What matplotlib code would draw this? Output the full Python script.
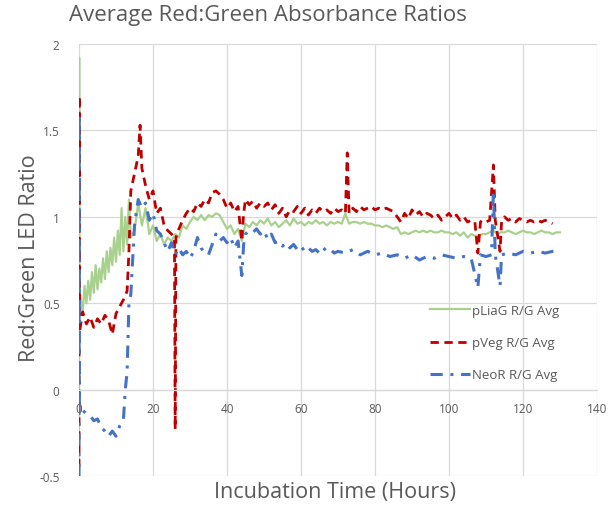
import matplotlib.pyplot as plt

# ----- data (hours, red:green ratio) -----
liag_x = [0, 0.05, 0.1] + [0.5 * i for i in range(1, 29)] + list(range(15, 131))
liag_y = [
    -0.48, 1.92, 0.55,
    # 0.5 .. 14 h, half-hour steps (noisy ramp)
    0.52, 0.45, 0.60, 0.50, 0.63, 0.52, 0.68, 0.56, 0.72, 0.58,
    0.70, 0.62, 0.76, 0.64, 0.80, 0.68, 0.82, 0.72, 0.88, 0.74,
    0.92, 0.78, 1.05, 0.80, 1.00, 0.84, 1.10, 0.88,
    # 15 .. 130 h
    0.92, 1.08, 0.95, 1.05, 0.90, 0.95,
    0.86, 0.90, 0.84, 0.88, 0.86, 0.90, 0.88, 0.95, 0.93, 0.97,
    1.00, 0.98, 1.01, 0.98, 1.01, 1.00, 1.02, 1.01, 0.97, 0.93,
    0.95, 0.90, 0.93, 0.86, 0.96, 0.94, 0.97, 0.95, 0.98, 0.96,
    0.99, 0.95, 0.97, 0.94, 0.96, 0.98, 0.95, 0.99, 0.96, 0.97,
    0.95, 0.97, 0.96, 0.98, 0.96, 0.97, 0.95, 0.97, 0.96, 0.97,
    0.96, 1.02, 0.96, 0.97, 0.97, 0.96, 0.97, 0.96, 0.96, 0.95,
    0.95, 0.94, 0.95, 0.94, 0.93, 0.94, 0.90, 0.91, 0.90, 0.91,
    0.92, 0.91, 0.92, 0.91, 0.92, 0.91, 0.91, 0.92, 0.91, 0.91,
    0.90, 0.91, 0.89, 0.91, 0.88, 0.90, 0.89, 0.89, 0.90, 0.90,
    0.91, 0.92, 0.90, 0.91, 0.91, 0.92, 0.91, 0.90, 0.91, 0.92,
    0.91, 0.91, 0.90, 0.91, 0.92, 0.91, 0.91, 0.90, 0.91, 0.91,
]

veg_x = [
    0, 0.05, 0.1, 1, 2, 3, 4, 5, 6, 7, 8, 9, 10, 11, 12, 13, 13.5,
    14, 15, 16, 16.5, 17, 18, 19, 20, 21, 22, 23, 24, 25, 25.8, 26,
    26.2, 27, 28, 29, 30, 31, 32, 33, 34, 35, 36, 37, 38, 39, 40, 41,
    42, 43, 44, 44.5, 45, 46, 47, 48, 49, 50, 51, 52, 53, 54, 55, 56,
    57, 58, 59, 60, 61, 62, 63, 64, 65, 66, 67, 68, 69, 70, 71, 72,
    72.5, 73, 74, 75, 76, 77, 78, 79, 80, 81, 82, 83, 84, 85, 86, 87,
    88, 89, 90, 91, 92, 93, 94, 95, 96, 97, 98, 99, 100, 101, 102,
    103, 104, 105, 106, 107, 107.8, 108.5, 109, 110, 111, 112, 112.5,
    113.8, 114.2, 115, 116, 117, 118, 119, 120, 121, 122, 123, 124,
    125, 126, 127, 128,
]
veg_y = [
    -0.45, 1.70, 0.33, 0.45, 0.38, 0.42, 0.36, 0.41, 0.38, 0.43, 0.40,
    0.32, 0.44, 0.48, 0.52, 0.57, 0.80, 1.15, 1.25, 1.35, 1.53, 1.28,
    1.18, 1.10, 1.15, 1.02, 1.05, 0.95, 0.92, 0.90, 0.88, -0.23, 0.88,
    0.93, 0.98, 1.02, 1.05, 1.03, 1.08, 1.06, 1.10, 1.08, 1.14, 1.15,
    1.13, 1.10, 1.05, 1.08, 1.03, 1.06, 0.86, 1.02, 1.10, 1.07, 1.09,
    1.05, 1.08, 1.06, 1.08, 1.04, 1.07, 1.02, 1.05, 1.00, 1.04, 1.03,
    1.06, 1.02, 1.05, 1.01, 1.04, 1.02, 1.05, 1.03, 1.04, 1.02, 1.05,
    1.03, 1.04, 1.02, 1.37, 1.02, 1.05, 1.03, 1.06, 1.04, 1.05, 1.06,
    1.04, 1.05, 1.04, 1.05, 1.04, 1.03, 1.00, 0.97, 1.02, 0.99, 1.04,
    1.01, 1.03, 1.00, 1.02, 1.01, 0.99, 1.01, 0.98, 1.00, 1.02, 0.99,
    1.01, 0.98, 1.00, 0.97, 0.98, 0.97, 0.79, 0.97, 0.98, 0.97, 0.98,
    1.30, 0.98, 0.80, 0.97, 1.00, 0.98, 0.99, 0.97, 0.99, 0.98, 0.97,
    0.98, 0.97, 0.98, 0.97, 0.98, 0.97, 0.96,
]

neo_x = [
    0, 0.05, 0.1, 0.5, 1, 2, 3, 4, 5, 6, 7, 8, 9, 10, 11, 12, 12.5,
    13, 13.5, 14, 14.5, 15, 16, 17, 18, 19, 20, 21, 22, 23, 24, 25,
    26, 27, 28, 29, 30, 31, 32, 33, 34, 35, 36, 37, 38, 39, 40, 41,
    42, 43, 44, 44.5, 45, 46, 47, 48, 49, 50, 51, 52, 53, 54, 55, 56,
    57, 58, 59, 60, 61, 62, 63, 64, 65, 66, 67, 68, 69, 70, 72, 74,
    76, 78, 80, 82, 84, 86, 88, 90, 92, 94, 96, 98, 100, 102, 104,
    106, 107.8, 108.5, 110, 111.5, 112, 112.5, 113.8, 114.2, 116, 118,
    120, 122, 124, 126, 128, 130,
]
neo_y = [
    -0.50, 1.60, -0.08, -0.10, -0.12, -0.14, -0.15, -0.18, -0.17,
    -0.22, -0.24, -0.27, -0.24, -0.27, -0.21, -0.18, 0.00, 0.10, 0.50,
    0.55, 0.75, 0.95, 1.10, 1.05, 1.08, 0.98, 1.02, 0.92, 0.90, 0.85,
    0.80, 0.85, 0.78, 0.82, 0.78, 0.80, 0.76, 0.80, 0.88, 0.82, 0.79,
    0.78, 0.84, 0.90, 0.86, 0.88, 0.85, 0.88, 0.82, 0.86, 0.66, 0.84,
    0.90, 0.92, 0.91, 0.93, 0.90, 0.92, 0.87, 0.90, 0.85, 0.86, 0.83,
    0.85, 0.82, 0.84, 0.81, 0.83, 0.80, 0.82, 0.80, 0.81, 0.79, 0.82,
    0.80, 0.81, 0.79, 0.80, 0.79, 0.81, 0.78, 0.80, 0.78, 0.79, 0.77,
    0.78, 0.76, 0.78, 0.75, 0.77, 0.76, 0.78, 0.77, 0.76, 0.77, 0.76,
    0.59, 0.78, 0.77, 0.78, 1.15, 0.78, 0.60, 0.78, 0.79, 0.78, 0.80,
    0.79, 0.80, 0.79, 0.80, 0.80,
]

x_ticks = [0, 20, 40, 60, 80, 100, 120, 140]
y_ticks = [-0.5, 0, 0.5, 1, 1.5, 2]
y_tick_labels = ["-0.5", "0", "0.5", "1", "1.5", "2"]

GREEN = "#a9d18e"
RED = "#c00000"
BLUE = "#4472c4"
TEXT = "#595959"
GRID = "#d9d9d9"

plt.rcParams["font.family"] = ["Open Sans", "DejaVu Sans"]

fig = plt.figure(figsize=(6.13, 5.06), dpi=100)
ax = fig.add_axes([79 / 613, 1 - 477 / 506, 518 / 613, 432 / 506])

ax.plot(liag_x, liag_y, color=GREEN, lw=1.6, label="pLiaG R/G Avg")
ax.plot(veg_x, veg_y, color=RED, lw=2.0, ls=(0, (3, 2)),
        label="pVeg R/G Avg")
ax.plot(neo_x, neo_y, color=BLUE, lw=2.2, ls=(0, (4, 2.5, 1, 2.5)),
        label="NeoR R/G Avg")

ax.set_xlim(0, 140)
ax.set_ylim(-0.5, 2)
ax.set_xticks(x_ticks)
ax.set_yticks(y_ticks)
ax.set_yticklabels(y_tick_labels)
ax.grid(True, color=GRID, lw=0.9)
ax.set_axisbelow(True)
for side in ("top", "right", "left"):
    ax.spines[side].set_visible(False)
# Excel style: category axis crosses at y = 0
ax.spines["bottom"].set_position(("data", 0))
ax.spines["bottom"].set_color(GRID)
ax.spines["bottom"].set_linewidth(0.9)
ax.tick_params(axis="x", length=0, pad=9, labelsize=8.5, labelcolor=TEXT)
ax.tick_params(axis="y", length=0, pad=14, labelsize=8.5, labelcolor=TEXT)

fig.text(268 / 613, 1 - 16 / 506, "Average Red:Green Absorbance Ratios",
         ha="center", va="center", fontsize=16, color=TEXT)
fig.text(335 / 613, 1 - 493 / 506, "Incubation Time (Hours)",
         ha="center", va="center", fontsize=15.5, color=TEXT)
fig.text(30 / 613, 1 - 258 / 506, "Red:Green LED Ratio", rotation=90,
         ha="center", va="center", fontsize=15.5, color=TEXT)

leg = ax.legend(loc="upper left", bbox_to_anchor=(430 / 613, 1 - 305 / 506),
                bbox_transform=fig.transFigure, frameon=False, fontsize=9.5,
                handlelength=3.0, handletextpad=0.2, labelspacing=1.45,
                borderpad=0, borderaxespad=0)
for t in leg.get_texts():
    t.set_color(TEXT)

fig.savefig("out.png", dpi=100)
